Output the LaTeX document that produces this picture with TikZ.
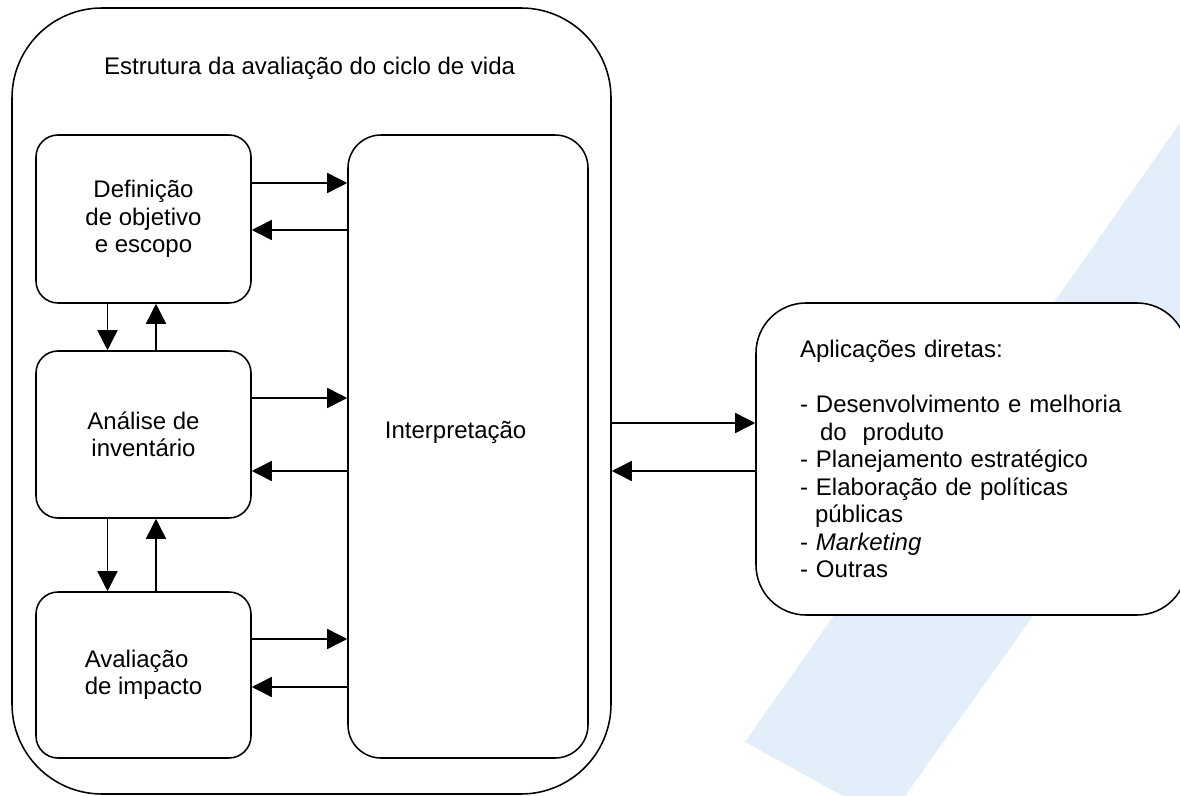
\documentclass[tikz,border=0pt]{standalone}
\usepackage{fontspec}
\setmainfont{Liberation Sans}
\usetikzlibrary{arrows.meta}
\definecolor{azulfaixa}{RGB}{226,238,250}

\begin{document}
\begin{tikzpicture}[
        font=\fontsize{17.07pt}{19.56pt}\selectfont,
        % Estilo para as molduras arredondadas
        moldura/.style={draw, line width=1.1pt, inner sep=0pt},
        % Estilo para as caixas das fases
        fase/.style={moldura, rounded corners=0.55cm, minimum width=5.375cm, align=center},
        % Estilo para as setas
        seta/.style={line width=1.1pt, -{Triangle[length=0.5cm, width=0.5cm]}}
    ]
        % --- Limites da figura ---
        \useasboundingbox (0,0) rectangle (29.5,-19.9);

        % Faixa azul clara ao fundo
        \fill[azulfaixa] (29.5,-3.075) -- (18.625,-18.55) -- (21.075,-19.9)
            -- (22.625,-19.9) -- (29.5,-10.225) -- cycle;

        % --- Moldura da estrutura da ACV ---
        \node[moldura, rounded corners=2.25cm, minimum width=14.975cm, minimum height=19.65cm] (estrutura) at (7.7875,-10.025) {};
        \node (titulo) at (7.74,-1.7) {Estrutura da avaliação do ciclo de vida};

        % --- Fases (coluna da esquerda) ---
        \node[fase, minimum height=4.2cm] (objetivo) at (3.5875,-5.475) {Definição\\de objetivo\\e escopo};
        \node[fase, minimum height=4.175cm] (analise) at (3.5875,-10.8625) {Análise de\\inventário};
        \node[fase, minimum height=4.15cm, align=left] (avaliacao) at (3.5875,-16.875) {Avaliação\\de impacto};

        % Interpretação
        \node[moldura, rounded corners=0.825cm, minimum width=6cm, minimum height=15.575cm] (interp) at (11.7,-11.1625) {};
        \node (interptexto) at (11.39,-10.8) {Interpretação};

        % --- Aplicações diretas ---
        \node[moldura, fill=white, rounded corners=1.25cm, minimum width=10.775cm, minimum height=7.8cm,
              text width=8.575cm, inner xsep=1.1cm, align=left] (aplicacoes) at (24.2875,-11.475)
            {Aplicações diretas:\\[19.56pt]
             - Desenvolvimento e melhoria\\
             \hspace*{0.5cm}do\ \ produto\\
             - Planejamento estratégico\\
             - Elaboração de políticas\\
             \hspace*{0.375cm}públicas\\
             - \textit{Marketing}\\
             - Outras};

        % --- Setas entre as fases e a interpretação ---
        \draw[seta] ([yshift=0.9cm]objetivo.east) -- ([yshift=0.9cm]objetivo.east -| interp.west);
        \draw[seta] ([yshift=-0.275cm]objetivo.east -| interp.west) -- ([yshift=-0.275cm]objetivo.east);
        \draw[seta] ([yshift=0.9125cm]analise.east) -- ([yshift=0.9125cm]analise.east -| interp.west);
        \draw[seta] ([yshift=-0.9125cm]analise.east -| interp.west) -- ([yshift=-0.9125cm]analise.east);
        \draw[seta] ([yshift=0.9cm]avaliacao.east) -- ([yshift=0.9cm]avaliacao.east -| interp.west);
        \draw[seta] ([yshift=-0.3cm]avaliacao.east -| interp.west) -- ([yshift=-0.3cm]avaliacao.east);

        % --- Setas entre as fases ---
        \draw[seta] ([xshift=-0.9cm]objetivo.south) -- ([xshift=-0.9cm]analise.north);
        \draw[seta] ([xshift=0.3125cm]analise.north) -- ([xshift=0.3125cm]objetivo.south);
        \draw[seta] ([xshift=-0.9cm]analise.south) -- ([xshift=-0.9cm]avaliacao.north);
        \draw[seta] ([xshift=0.3125cm]avaliacao.north) -- ([xshift=0.3125cm]analise.south);

        % --- Setas entre a estrutura e as aplicações ---
        \draw[seta] ([yshift=0.9cm]aplicacoes.west -| estrutura.east) -- ([yshift=0.9cm]aplicacoes.west);
        \draw[seta] ([yshift=-0.3cm]aplicacoes.west) -- ([yshift=-0.3cm]aplicacoes.west -| estrutura.east);

    \end{tikzpicture}
\end{document}
